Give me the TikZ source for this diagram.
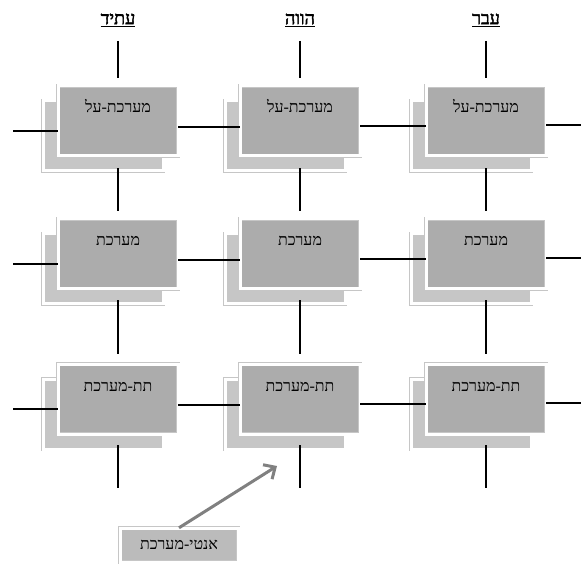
\documentclass[tikz,border=0pt]{standalone}
\usepackage{fontspec}
\setmainfont{Liberation Serif}
\newfontfamily\hebfont[Script=Hebrew]{Liberation Serif}
\newfontfamily\hebboldfont[Script=Hebrew, FakeBold=2.5]{Liberation Serif}
\TeXXeTstate=1
\usetikzlibrary{arrows.meta}

\tikzset{
  frontbox/.style={draw=gray!45, double=white, double distance=3pt, fill=gray!65,
    minimum width=120pt, minimum height=70pt, inner sep=5pt,
    text height=22pt, text depth=38pt, font=\hebfont\fontsize{16}{18}\selectfont},
  backbox/.style={draw=gray!45, double=white, double distance=3pt, fill=gray!45,
    minimum width=120pt, minimum height=70pt},
  antibox/.style={draw=gray!45, double=white, double distance=3pt, fill=gray!53,
    minimum width=118pt, minimum height=34pt, font=\hebfont\fontsize{16}{18}\selectfont},
  timehead/.style={font=\hebboldfont\fontsize{18}{20}\selectfont},
  link/.style={line width=1.3pt},
  pointer/.style={draw=black!50, line width=3pt, -{Straight Barb[length=9pt,width=17pt]}},
}

\begin{document}
\begin{tikzpicture}[x=1pt, y=-1pt]
\useasboundingbox (0,0) rectangle (581,569);

% column heads
\node[timehead] (h1) at (118,20) {\underline{\beginR עתיד\endR}};
\node[timehead] (h2) at (300,20) {\underline{\beginR הווה\endR}};
\node[timehead] (h3) at (486,20) {\underline{\beginR עבר\endR}};

% boxes, shadow first
\foreach \r/\y/\txt in {1/121/מערכת-על, 2/254/מערכת, 3/399/תת-מערכת}{
  \foreach \c/\x in {1/118, 2/300, 3/486}{
    \node[backbox] (b\r\c) at (\x-15,\y+15) {};
    \node[frontbox] (f\r\c) at (\x,\y) {\beginR\txt\endR};
  }
  \coordinate (lend\r) at (13,\y+10);
  \coordinate (rend\r) at (581,\y+4);
}

% horizontal links
\foreach \r in {1,2,3}{
  \draw[link] (lend\r) -- (f\r1.west |- lend\r);
  \draw[link] ([yshift=-6pt]f\r1.east) -- ([yshift=-6pt]f\r2.west);
  \draw[link] ([yshift=-5pt]f\r2.east) -- ([yshift=-5pt]f\r3.west);
  \draw[link] (f\r3.east |- rend\r) -- (rend\r);
}

% vertical links
\foreach \c/\x in {1/118, 2/300, 3/486}{
  \coordinate (bend\c) at (\x,488);
  \draw[link, shorten <=11pt, shorten >=8pt] (h\c) -- (f1\c);
  \draw[link, shorten <=12pt, shorten >=8pt] (f1\c) -- (f2\c);
  \draw[link, shorten <=11pt, shorten >=10pt] (f2\c) -- (f3\c);
  \draw[link, shorten <=11pt] (f3\c) -- (bend\c);
}

% anti-system
\node[antibox] (anti) at (179,545) {\beginR אנטי-מערכת\endR};
\coordinate (tip) at (277,466);
\draw[pointer] (anti.north) -- (tip);
\end{tikzpicture}
\end{document}
